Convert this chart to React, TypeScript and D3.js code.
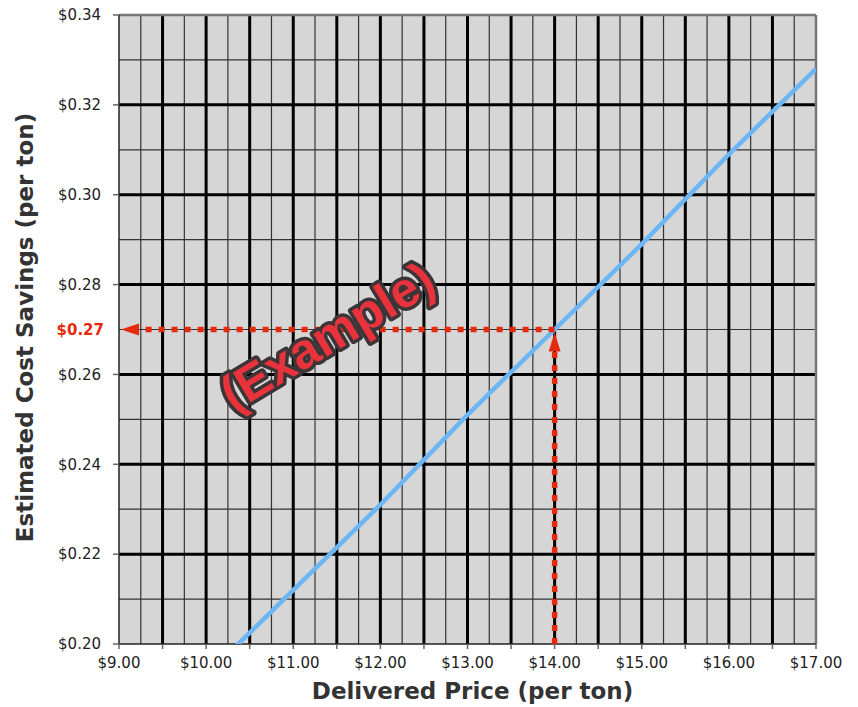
import React from "react"
import * as d3 from "d3"

// line data
const prices = [10, 11, 12, 13, 14, 15, 16, 17]
const savings = [0.193, 0.212, 0.231, 0.251, 0.27, 0.289, 0.309, 0.328]

const xTickValues = [9, 9.5, 10, 10.5, 11, 11.5, 12, 12.5, 13, 13.5, 14, 14.5, 15, 15.5, 16, 16.5, 17]
const xLabelValues = [9, 10, 11, 12, 13, 14, 15, 16, 17]
const yTickValues = [0.2, 0.22, 0.24, 0.26, 0.28, 0.3, 0.32, 0.34]
const xMinorValues = [9.25, 9.75, 10.25, 10.75, 11.25, 11.75, 12.25, 12.75, 13.25, 13.75, 14.25, 14.75, 15.25, 15.75, 16.25, 16.75]
const yMinorValues = [0.21, 0.23, 0.25, 0.27, 0.29, 0.31, 0.33]

const examplePrice = 14
const exampleSaving = 0.27

const W = 858
const H = 707
const margin = { top: 15, right: 42, bottom: 63, left: 119 }

export default function App() {
  const x = d3.scaleLinear().domain([9, 17]).range([margin.left, W - margin.right])
  const y = d3.scaleLinear().domain([0.2, 0.34]).range([H - margin.bottom, margin.top])

  const line = d3
    .line<number>()
    .x((_, i) => x(prices[i]))
    .y((d) => y(d))

  const x0 = x.range()[0]
  const x1 = x.range()[1]
  const y0 = y.range()[0]
  const y1 = y.range()[1]

  const red = "#e5290c"
  const ex = x(examplePrice)
  const ey = y(exampleSaving)

  const tickFont = "'DejaVu Sans', Verdana, sans-serif"
  const titleFont = "'DejaVu Sans', sans-serif"
  const money = d3.format("$.2f")

  return (
    <svg width={W} height={H} style={{ display: "block", position: "absolute", left: 0, top: 0 }}>
      <defs>
        <clipPath id="plot">
          <rect x={x0} y={y1} width={x1 - x0} height={y0 - y1} />
        </clipPath>
      </defs>

      <rect x={x0} y={y1} width={x1 - x0} height={y0 - y1} fill="#d6d6d6" />

      {/* minor grid */}
      {xMinorValues.map((v) => (
        <line key={"xm" + v} x1={x(v)} x2={x(v)} y1={y1} y2={y0} stroke="#333" strokeWidth={1.2} />
      ))}
      {yMinorValues.map((v) => (
        <line key={"ym" + v} x1={x0} x2={x1} y1={y(v)} y2={y(v)} stroke="#333" strokeWidth={1.2} />
      ))}

      {/* major grid */}
      {xTickValues.slice(1, -1).map((v) => (
        <line key={"xM" + v} x1={x(v)} x2={x(v)} y1={y1} y2={y0} stroke="#000" strokeWidth={3} />
      ))}
      {yTickValues.slice(1, -1).map((v) => (
        <line key={"yM" + v} x1={x0} x2={x1} y1={y(v)} y2={y(v)} stroke="#000" strokeWidth={3} />
      ))}

      {/* borders */}
      <line x1={x0} x2={x1} y1={y1} y2={y1} stroke="#777" strokeWidth={2.5} />
      <line x1={x1} x2={x1} y1={y1} y2={y0} stroke="#777" strokeWidth={2.5} />
      <line x1={x0} x2={x0} y1={y1} y2={y0} stroke="#222" strokeWidth={1.5} />
      <line x1={x0} x2={x1} y1={y0} y2={y0} stroke="#222" strokeWidth={1.5} />

      {/* ticks */}
      {yTickValues.map((v) => (
        <line key={"yt" + v} x1={x0 - 6} x2={x0} y1={y(v)} y2={y(v)} stroke="#666" strokeWidth={1.5} />
      ))}
      {xTickValues.map((v) => (
        <line key={"xt" + v} x1={x(v)} x2={x(v)} y1={y0} y2={y0 + 5} stroke="#666" strokeWidth={1.5} />
      ))}

      {/* tick labels */}
      {yTickValues.map((v) => (
        <text
          key={"yl" + v}
          x={x0 - 18}
          y={y(v)}
          dy="0.35em"
          textAnchor="end"
          fontFamily={tickFont}
          fontSize={15}
          fill="#222"
        >
          {money(v)}
        </text>
      ))}
      {xLabelValues.map((v) => (
        <text
          key={"xl" + v}
          x={x(v)}
          y={y0 + 24}
          textAnchor="middle"
          fontFamily={tickFont}
          fontSize={15}
          fill="#222"
        >
          {money(v)}
        </text>
      ))}

      {/* data line */}
      <path
        d={line(savings) || ""}
        clipPath="url(#plot)"
        fill="none"
        stroke="#6cb6f6"
        strokeWidth={4.5}
      />

      {/* example arrows */}
      <line x1={ex} x2={x0 + 18} y1={ey} y2={ey} stroke={red} strokeWidth={5.5} strokeDasharray="6 7" />
      <path d={`M${x0 + 2},${ey} L${x0 + 20},${ey - 6} L${x0 + 20},${ey + 6} Z`} fill={red} />
      <line x1={ex} x2={ex} y1={y0} y2={ey + 20} stroke={red} strokeWidth={5.5} strokeDasharray="6 7" />
      <path d={`M${ex},${ey + 3} L${ex - 6},${ey + 22} L${ex + 6},${ey + 22} Z`} fill={red} />
      <text
        x={x0 - 15}
        y={ey}
        dy="0.35em"
        textAnchor="end"
        fontFamily={tickFont}
        fontSize={15}
        fontWeight="bold"
        fill={red}
      >
        {money(exampleSaving)}
      </text>

      {/* watermark */}
      <text
        transform="translate(327,336) rotate(-31)"
        textAnchor="middle"
        dy="0.35em"
        fontFamily="'Liberation Sans', Arial, sans-serif"
        fontWeight="bold"
        fontSize={50}
        fill="#e8333d"
        stroke="#3b3538"
        strokeWidth={7}
        strokeLinejoin="round"
        paintOrder="stroke"
      >
        (Example)
      </text>

      {/* axis titles */}
      <text
        x={(x0 + x1) / 2 + 5}
        y={699}
        textAnchor="middle"
        fontFamily={titleFont}
        fontWeight="bold"
        fontSize={23}
        fill="#333"
      >
        Delivered Price (per ton)
      </text>
      <text
        transform={`translate(33,${(y0 + y1) / 2 - 2}) rotate(-90)`}
        textAnchor="middle"
        fontFamily={titleFont}
        fontWeight="bold"
        fontSize={23}
        fill="#333"
      >
        Estimated Cost Savings (per ton)
      </text>
    </svg>
  )
}
